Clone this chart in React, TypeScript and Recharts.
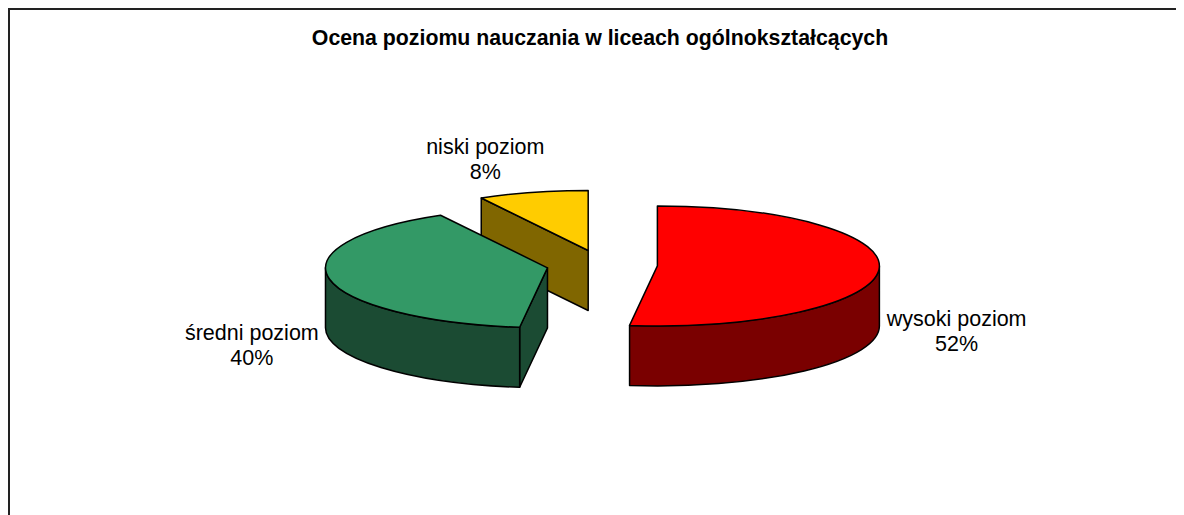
import { PieChart, Pie } from 'recharts'

const categories = ['wysoki poziom', 'średni poziom', 'niski poziom']
const shares = [52, 40, 8]
const title = 'Ocena poziomu nauczania w liceach ogólnokształcących'

const topColors = ['#ff0000', '#339966', '#ffcc00']
const sideColors = ['#7a0000', '#1b4b33', '#806600']

const TILT = 0.27 // ellipse squash of the pie top
const DEPTH = 60 // height of the pie walls
const EXPLODE = 0.25 // slice offset as a part of the radius
const FONT = 'Arial, "Liberation Sans", sans-serif'

// painted back to front: small slice first, so data goes counter-clockwise from 12 o'clock
const data = categories
  .map((name, i) => ({ name, value: shares[i], top: topColors[i], side: sideColors[i] }))
  .reverse()

const rad = Math.PI / 180

function Slice3D(props: any) {
  const { cx, cy, outerRadius: r, startAngle, endAngle } = props
  const entry = props.payload ?? props
  const mid = (startAngle + endAngle) / 2
  const ry = r * TILT
  const ox = cx + r * EXPLODE * Math.cos(mid * rad)
  const oy = cy - ry * EXPLODE * Math.sin(mid * rad)
  const pt = (a: number, dy = 0) =>
    `${ox + r * Math.cos(a * rad)},${oy - ry * Math.sin(a * rad) + dy}`

  const large = endAngle - startAngle > 180 ? 1 : 0
  const topPath = `M${ox},${oy} L${pt(startAngle)} A${r},${ry} 0 ${large} 0 ${pt(endAngle)} Z`

  const walls: string[] = []
  // radial cut faces
  if (Math.cos(startAngle * rad) > 0.001)
    walls.push(`M${ox},${oy} L${pt(startAngle)} L${pt(startAngle, DEPTH)} L${ox},${oy + DEPTH} Z`)
  if (Math.cos(endAngle * rad) < -0.001)
    walls.push(`M${ox},${oy} L${pt(endAngle)} L${pt(endAngle, DEPTH)} L${ox},${oy + DEPTH} Z`)
  // front part of the rim
  for (const base of [-180, 180, 540]) {
    const w0 = Math.max(startAngle, base)
    const w1 = Math.min(endAngle, base + 180)
    if (w1 > w0) {
      walls.push(
        `M${pt(w0)} A${r},${ry} 0 0 0 ${pt(w1)} L${pt(w1, DEPTH)} A${r},${ry} 0 0 1 ${pt(w0, DEPTH)} Z`
      )
    }
  }

  const c = Math.cos(mid * rad)
  const s = Math.sin(mid * rad)
  const lx = cx + r * 1.6 * Math.sign(c) * Math.pow(Math.abs(c), 0.8)
  const ly = cy - ry * 1.82 * s + (s <= 0 ? DEPTH : 0)

  return (
    <g>
      {walls.map((d, i) => (
        <path key={i} d={d} fill={entry.side} stroke="#000" strokeWidth={1.5} strokeLinejoin="round" />
      ))}
      <path d={topPath} fill={entry.top} stroke="#000" strokeWidth={1.5} strokeLinejoin="round" />
      <text x={lx} y={ly - 12.5} textAnchor="middle" dominantBaseline="central" fontFamily={FONT} fontSize={21.5} fill="#000">
        {entry.name}
      </text>
      <text x={lx} y={ly + 12.5} textAnchor="middle" dominantBaseline="central" fontFamily={FONT} fontSize={21.5} fill="#000">
        {`${entry.value}%`}
      </text>
    </g>
  )
}

export default function App() {
  return (
    <div style={{ position: 'relative', width: 1176, height: 507, background: '#fff' }}>
      <PieChart width={1176} height={507} margin={{ top: 0, right: 0, bottom: 0, left: 0 }}>
        <text
          x={592}
          y={30}
          textAnchor="middle"
          dominantBaseline="central"
          fontFamily={FONT}
          fontWeight="bold"
          fontSize={21.3}
          fill="#000"
        >
          {title}
        </text>
        <Pie
          data={data}
          dataKey="value"
          nameKey="name"
          cx={594}
          cy={257}
          outerRadius={222}
          startAngle={90}
          endAngle={450}
          stroke="none"
          shape={Slice3D}
          isAnimationActive={false}
        />
      </PieChart>
      <div
        style={{
          position: 'absolute',
          left: 0,
          top: 0,
          right: 0,
          bottom: 0,
          borderTop: '2px solid #222',
          borderLeft: '2px solid #222',
          pointerEvents: 'none',
        }}
      />
    </div>
  )
}
